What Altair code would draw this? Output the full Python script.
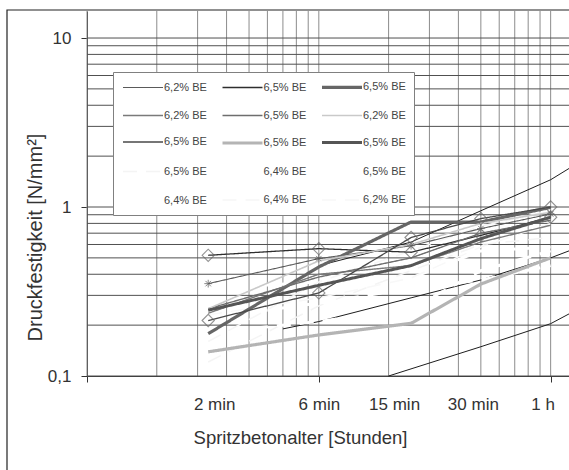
import altair as alt
import pandas as pd

# ------------------------------------------------------------------ data
times_h = [1 / 30, 0.1, 0.25, 0.5, 1.0]          # 2 min, 6 min, 15 min, 30 min, 1 h

series_ids = list(range(15))
series_labels = ["6,2% BE", "6,5% BE", "6,5% BE",
                 "6,2% BE", "6,5% BE", "6,2% BE",
                 "6,5% BE", "6,5% BE", "6,5% BE",
                 "6,5% BE", "6,4% BE", "6,5% BE",
                 "6,4% BE", "6,4% BE", "6,2% BE"]

s00 = [0.352, 0.495, 0.59, 0.745, 0.91]
s01 = [0.518, 0.567, 0.54, 0.68, 0.87]
s02 = [0.178, 0.442, 0.815, 0.815, 0.995]
s03 = [0.235, 0.40, 0.45, 0.62, 0.78]
s04 = [0.25, 0.385, 0.50, 0.70, 0.835]
s05 = [0.25, 0.48, 0.60, 0.80, 0.93]
s06 = [0.213, 0.31, 0.66, 0.854, 1.0]
s07 = [0.139, 0.175, 0.205, 0.35, 0.50]
s08 = [0.245, 0.344, 0.45, 0.65, 0.87]
s09 = [0.121, 0.26, 0.42, 0.60, 0.66]
s10 = [0.33, 0.36, 0.38, 0.55, 0.58]
s11 = [0.22, 0.27, 0.33, 0.37, 0.45]
s12 = [0.18, 0.21, 0.25, 0.42, 0.55]
s13 = [0.16, 0.36, 0.55, 0.77, 0.95]
s14 = [0.23, 0.29, 0.38, 0.58, 0.80]
series_values = [s00, s01, s02, s03, s04, s05, s06, s07, s08, s09,
                 s10, s11, s12, s13, s14]

# reference (limit) curves
ref_names = ["oben", "mitte", "unten"]
ref_t = [[0.1, 0.25, 0.5, 1.0, 1.2],
         [0.07, 0.1, 0.25, 0.5, 1.0, 1.2],
         [0.2, 0.5, 1.0, 1.2]]
ref_v = [[0.45, 0.62, 0.95, 1.45, 1.69],
         [0.19, 0.21, 0.29, 0.37, 0.50, 0.55],
         [0.10, 0.149, 0.204, 0.233]]

x_grid = [0.01, 0.02, 0.03, 0.04, 0.05, 0.06, 0.07, 0.08, 0.09,
          0.1, 0.2, 0.3, 0.4, 0.5, 0.6, 0.7, 0.8, 0.9, 1.0]
y_grid = [0.1, 0.2, 0.3, 0.4, 0.5, 0.6, 0.7, 0.8, 0.9,
          1, 2, 3, 4, 5, 6, 7, 8, 9, 10]
x_tick_values = [0.01, 1 / 30, 0.1, 0.25, 0.5, 1.0]
x_tick_labels = ["", "2 min", "6 min", "15 min", "30 min", "1 h"]
x_decades = [0.01, 0.1, 1.0]
y_tick_values = [0.1, 1, 10]
y_tick_labels = ["0,1", "1", "10"]

# ------------------------------------------------------------------ styles
series_colors = ["#5a5a5a", "#2e2e2e", "#666666",
                 "#7a7a7a", "#6e6e6e", "#c9c9c9",
                 "#4a4a4a", "#b4b4b4", "#555555",
                 "#f4f4f4", "#ffffff", "#ffffff",
                 "#ffffff", "#f6f6f6", "#f8f8f8"]
series_widths = [1.1, 1.3, 3.2,
                 1.4, 1.4, 1.6,
                 1.3, 3.2, 3.0,
                 1.5, 3.0, 3.0,
                 3.0, 1.5, 1.5]
series_dash = [[1, 0]] * 9 + [[14, 9]] * 6
white_ids = [9, 10, 11, 12, 13, 14]
FONT = "Liberation Sans"

# legend fills column by column (5 rows x 3 columns) -> order for row-wise reading
legend_order = [3 * r + c for c in range(3) for r in range(5)]

# ------------------------------------------------------------------ frames
rows = []
for sid, vals in zip(series_ids, series_values):
    for t, v in zip(times_h, vals):
        rows.append({"sid": sid, "t": t, "v": v})
df = pd.DataFrame(rows)

ref_rows = []
for name, ts, vs in zip(ref_names, ref_t, ref_v):
    for t, v in zip(ts, vs):
        ref_rows.append({"ref": name, "t": t, "v": v})
ref_df = pd.DataFrame(ref_rows)

xs = alt.Scale(type="log", domain=[0.01, 1.2], nice=False)
ys = alt.Scale(type="log", domain=[0.1, 14.45], nice=False)


def near(vals):
    return " || ".join(f"abs(datum.value - {v}) < {v * 1e-3}" for v in vals)


x_label_expr = " : ".join(
    f"abs(datum.value - {v}) < {v * 1e-3} ? '{lab}'"
    for v, lab in zip(x_tick_values, x_tick_labels)) + " : ''"
y_label_expr = " : ".join(
    f"abs(datum.value - {v}) < {v * 1e-3} ? '{lab}'"
    for v, lab in zip(y_tick_values, y_tick_labels)) + " : ''"
legend_label_expr = "[" + ",".join(f"'{l}'" for l in series_labels) + "][datum.value]"

x_axis = alt.Axis(
    values=x_tick_values, labelExpr=x_label_expr, grid=False,
    tickSize=6, tickColor="#333", domainColor="#333",
    tickOpacity={"condition": {"test": near(x_decades), "value": 1}, "value": 0},
    labelOffset={"condition": [
        {"test": "datum.value < 0.05", "value": 6},
        {"test": "datum.value > 0.2 && datum.value < 0.3", "value": -17},
        {"test": "datum.value > 0.3", "value": -8}], "value": 0},
    labelFont=FONT, labelFontSize=17, labelColor="#333", labelPadding=14,
    title="Spritzbetonalter [Stunden]", titleFont=FONT, titleFontSize=18.5,
    titleFontWeight="normal", titleColor="#333", titleX=213, titleY=61,
    titleBaseline="middle", titleAlign="center")

y_axis = alt.Axis(
    values=y_tick_values, labelExpr=y_label_expr, grid=False,
    tickSize=6, tickColor="#333", domainColor="#333",
    labelFont=FONT, labelFontSize=17, labelColor="#333", labelPadding=10,
    title="Druckfestigkeit [N/mm²]", titleFont=FONT, titleFontSize=20,
    titleFontWeight="normal", titleColor="#333", titleX=-52, titleY=226,
    titleBaseline="middle", titleAlign="center", titleAngle=270)

X = alt.X("t:Q", scale=xs, axis=x_axis)
Y = alt.Y("v:Q", scale=ys, axis=y_axis)

frame = alt.Chart(pd.DataFrame({"a": [0]})).mark_rect(
    fill=None, stroke="#222", strokeWidth=1.2).encode(
    x=alt.value(-80), x2=alt.value(620), y=alt.value(-1), y2=alt.value(520))

vgrid = alt.Chart(pd.DataFrame({"t": x_grid})).mark_rule(
    color="#8c8c8c", strokeWidth=1).encode(x=X)
hgrid = alt.Chart(pd.DataFrame({"v": y_grid})).mark_rule(
    color="#505050", strokeWidth=1).encode(y=Y)

legend = alt.Legend(
    orient="none", legendX=26, legendY=61, columns=3, direction="vertical",
    symbolType="M-1,0H7", symbolSize=100, labelExpr=legend_label_expr,
    title=None, fillColor="white", strokeColor="#808080", padding=8,
    rowPadding=15.5, columnPadding=8.5, labelFont=FONT, labelFontSize=11,
    labelColor="#444", labelOffset=29)

enc = dict(
    x=X, y=Y,
    color=alt.Color("sid:N", scale=alt.Scale(
        domain=legend_order, range=[series_colors[i] for i in legend_order]),
        legend=legend),
    strokeWidth=alt.StrokeWidth("sid:N", scale=alt.Scale(
        type="ordinal", domain=legend_order, range=[series_widths[i] for i in legend_order]),
        legend=legend),
    strokeDash=alt.StrokeDash("sid:N", scale=alt.Scale(
        domain=legend_order, range=[series_dash[i] for i in legend_order]),
        legend=legend),
)

white_lines = alt.Chart(df).transform_filter(
    alt.FieldOneOfPredicate(field="sid", oneOf=white_ids)).mark_line().encode(**enc)
lines = alt.Chart(df).transform_filter(
    ~alt.FieldOneOfPredicate(field="sid", oneOf=white_ids)).mark_line().encode(**enc)

refs = alt.Chart(ref_df).mark_line(color="#1e1e1e", strokeWidth=1).encode(
    x=X, y=Y, detail="ref:N")

asterisk = alt.Chart(df).transform_filter("datum.sid == 0").mark_point(
    shape="M-1,0L1,0M0,-1L0,1M-0.7,-0.7L0.7,0.7M-0.7,0.7L0.7,-0.7",
    filled=False, size=60, color="#555", strokeWidth=1).encode(x=X, y=Y)
diamonds = alt.Chart(df).transform_filter("datum.sid == 1 || datum.sid == 6").mark_point(
    shape="diamond", filled=False, size=150, color="#666", strokeWidth=1.1).encode(x=X, y=Y)

chart = alt.layer(frame, vgrid, hgrid, refs, white_lines, lines, asterisk, diamonds).properties(
    width=482, height=365,
    autosize=alt.AutoSizeParams(type="none"),
    padding={"left": 87, "top": 11, "right": 0, "bottom": 94},
    background="white",
).configure_view(stroke=None)

chart.save("out.html", embed_options={"renderer": "svg", "actions": False})
